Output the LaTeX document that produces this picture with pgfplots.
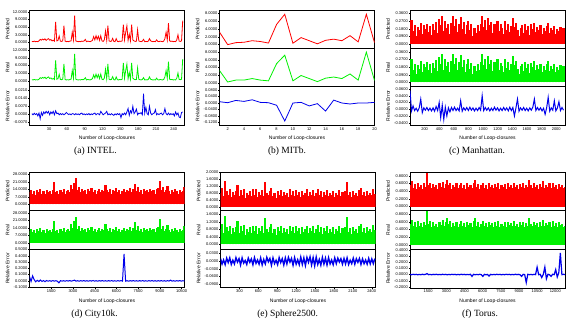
\documentclass[border=0pt]{standalone}
\usepackage{pgfplots}
\usepackage{pgfplotstable}
\pgfplotsset{compat=1.18}
\usepackage{fontspec}
\setmainfont{Liberation Serif}
\newfontfamily\arial{Liberation Sans}
\newcommand\tickfont{\arial\fontsize{4}{4.5}\selectfont}
\newcommand\labfont{\arial\fontsize{5}{6}\selectfont}
\newcommand\capfont{\fontsize{9.5}{11}\selectfont}
\definecolor{pr}{RGB}{255,0,0}
\definecolor{re}{RGB}{0,240,0}
\definecolor{er}{RGB}{0,0,235}
\pgfplotsset{
 sub/.style={scale only axis, width=155pt, height=#1, anchor=north west,
  axis line style={line width=0.6pt},
  every tick/.style={black, line width=0.3pt}, major tick length=1.2pt, tick align=outside,
  xtick pos=bottom, ytick pos=left,
  tick label style={font=\tickfont},
  yticklabel style={inner sep=0.8pt,/pgf/number format/.cd, fixed, fixed zerofill, precision=4, assume math mode=true},
  xticklabel style={inner sep=1pt,/pgf/number format/.cd, 1000 sep={}, assume math mode=true},
  scaled ticks=false,
  ylabel style={font=\labfont, at={(axis description cs:-0.142,0.5)}, anchor=center},
  xtick=\empty,
 },
 bot/.style={xlabel={Number of Loop-closures}, xlabel style={font=\labfont, at={(axis description cs:0.5,0)}, anchor=center, yshift=-13pt}},
 comb/.style={ycomb, line width=2.1pt, mark=none},
}
% INTEL
\pgfplotstableread[row sep=\\]{
x p e\\
1 0.4 0.0005\\ 3 0.3 -0.0005\\ 5 0.5 0.0008\\ 7 0.3 -0.0003\\ 9 0.4 0.0005\\ 11 0.3 -0.0015\\ 13 0.6 0.0010\\ 15 1.2 -0.0040\\ 17 0.9 0.0015\\ 19 1.3 -0.0010\\
21 1.0 0.0020\\ 23 1.4 0.0005\\ 25 0.8 0.0025\\ 27 1.2 0.0010\\ 29 1.5 0.0025\\ 31 0.9 -0.0005\\ 33 1.1 0.0020\\ 35 0.6 0.0005\\ 37 0.9 0.0025\\ 39 0.5 -0.0005\\
41 8.0 0.0030\\ 43 0.6 0.0005\\ 45 0.8 0.0010\\ 47 2.5 -0.0005\\ 49 0.5 0.0005\\ 51 0.4 -0.0003\\ 53 0.6 0.0005\\ 55 6.6 -0.0005\\ 57 0.5 0.0003\\ 59 0.3 0.0015\\
61 0.4 0.0005\\ 63 0.3 -0.0003\\ 65 0.5 0.0003\\ 67 0.6 -0.0005\\ 69 4.0 0.0005\\ 71 1.0 0.0003\\ 73 10.5 -0.0005\\ 75 0.6 0.0005\\ 77 0.4 -0.0003\\ 79 0.3 0.0003\\
81 0.4 -0.0005\\ 83 0.3 0.0005\\ 85 0.5 0.0010\\ 87 0.4 -0.0003\\ 89 0.6 0.0003\\ 91 1.2 -0.0005\\ 93 0.3 0.0003\\ 95 0.5 -0.0003\\ 97 0.4 0.0005\\ 99 0.3 -0.0005\\
101 0.5 0.0003\\ 103 0.8 -0.0003\\ 105 2.3 0.0005\\ 107 1.0 0.0010\\ 109 2.6 -0.0005\\ 111 1.2 0.0005\\ 113 2.4 0.0003\\ 115 0.8 -0.0005\\ 117 2.6 0.0025\\ 119 0.6 0.0010\\
121 0.4 -0.0005\\ 123 1.0 0.0003\\ 125 4.5 0.0010\\ 127 0.8 0.0025\\ 129 6.6 -0.0005\\ 131 0.6 0.0003\\ 133 0.4 -0.0005\\ 135 0.5 0.0005\\ 137 1.6 -0.0003\\ 139 0.4 -0.0010\\
141 0.3 0.0003\\ 143 1.5 -0.0005\\ 145 0.4 0.0005\\ 147 0.3 -0.0003\\ 149 0.5 0.0005\\ 151 0.4 -0.0030\\ 153 0.6 0.0005\\ 155 7.0 -0.0005\\ 157 1.0 0.0010\\ 159 4.0 -0.0005\\
161 6.5 0.0020\\ 163 0.8 0.0050\\ 165 3.2 -0.0010\\ 167 0.6 0.0030\\ 169 7.0 0.0010\\ 171 1.0 0.0070\\ 173 0.6 0.0005\\ 175 0.4 0.0020\\ 177 0.5 0.0045\\ 179 5.0 -0.0005\\
181 0.6 0.0010\\ 183 0.4 0.0005\\ 185 0.3 0.0015\\ 187 0.5 -0.0005\\ 189 1.2 0.0180\\ 191 0.3 0.0010\\ 193 0.4 0.0060\\ 195 0.3 0.0005\\ 197 0.5 -0.0005\\ 199 1.5 0.0070\\
201 0.6 0.0010\\ 203 0.4 -0.0005\\ 205 0.3 0.0005\\ 207 0.4 0.0010\\ 209 0.3 0.0040\\ 211 1.0 -0.0005\\ 213 0.4 0.0005\\ 215 0.3 -0.0003\\ 217 0.5 0.0005\\ 219 0.4 0.0010\\
221 0.3 -0.0005\\ 223 0.5 0.0005\\ 225 1.5 0.0050\\ 227 4.0 0.0005\\ 229 1.0 -0.0005\\ 231 7.5 0.0010\\ 233 0.6 -0.0005\\ 235 0.4 0.0005\\ 237 0.5 -0.0003\\ 239 0.3 0.0005\\
241 0.4 -0.0015\\ 243 0.3 0.0020\\ 245 1.0 -0.0005\\ 247 3.0 0.0010\\ 249 0.5 -0.0025\\ 251 0.4 -0.0030\\ 253 0.6 0.0015\\ 255 8.5 0.0020\\
}\tabA
% MITb
\pgfplotstableread[row sep=\\]{
x p r e\\
1 3.2 3.2 0.008\\ 2 0.0 0.2 0.002\\ 3 0.5 0.7 0.016\\ 4 0.6 0.7 0.010\\ 5 1.0 1.1 0.020\\
6 0.8 0.7 0.004\\ 7 0.4 0.5 0.002\\ 8 5.2 5.0 -0.014\\ 9 7.8 7.2 -0.112\\ 10 0.35 0.5 0.000\\
11 1.8 1.9 0.004\\ 12 1.0 1.1 -0.018\\ 13 0.2 0.3 -0.004\\ 14 1.1 1.2 -0.050\\ 15 1.4 1.5 0.018\\
16 1.0 1.1 0.000\\ 17 2.3 2.3 -0.006\\ 18 0.7 0.7 0.000\\ 19 7.8 8.0 0.000\\ 20 0.5 0.6 0.004\\
}\tabB
% Manhattan
\pgfplotstableread[row sep=\\]{
x p e\\
0 0.12 0.055\\ 21 0.28 -0.005\\ 42 0.15 0.010\\ 63 0.22 -0.004\\ 84 0.10 0.003\\ 105 0.20 -0.006\\ 126 0.16 0.004\\ 147 0.25 0.030\\ 168 0.12 -0.010\\ 189 0.22 0.004\\
210 0.18 -0.003\\ 231 0.24 0.005\\ 252 0.14 -0.004\\ 273 0.21 0.003\\ 294 0.11 -0.005\\ 315 0.23 0.004\\ 336 0.17 -0.006\\ 357 0.26 0.008\\ 378 0.13 -0.004\\ 399 0.30 0.020\\
420 0.22 -0.025\\ 441 0.33 0.012\\ 462 0.15 -0.030\\ 483 0.27 0.006\\ 504 0.19 -0.020\\ 525 0.24 0.004\\ 546 0.12 -0.008\\ 567 0.25 0.005\\ 588 0.33 -0.004\\ 609 0.21 0.006\\
630 0.29 -0.004\\ 651 0.14 0.003\\ 672 0.24 -0.005\\ 693 0.32 0.025\\ 714 0.18 -0.006\\ 735 0.26 0.004\\ 756 0.12 -0.003\\ 777 0.22 0.005\\ 798 0.27 -0.004\\ 819 0.16 0.006\\
840 0.23 -0.003\\ 861 0.10 0.004\\ 882 0.19 -0.005\\ 903 0.13 0.003\\ 924 0.22 -0.004\\ 945 0.15 0.005\\ 966 0.24 -0.003\\ 987 0.33 0.040\\ 1008 0.20 -0.004\\ 1029 0.28 0.005\\
1050 0.16 -0.003\\ 1071 0.31 0.004\\ 1092 0.22 -0.005\\ 1113 0.26 0.003\\ 1134 0.13 -0.004\\ 1155 0.24 0.006\\ 1176 0.18 -0.003\\ 1197 0.27 0.004\\ 1218 0.15 -0.005\\ 1239 0.23 0.003\\
1260 0.19 -0.004\\ 1281 0.12 0.005\\ 1302 0.27 -0.003\\ 1323 0.17 0.004\\ 1344 0.24 -0.005\\ 1365 0.14 0.006\\ 1386 0.21 -0.004\\ 1407 0.31 0.005\\ 1428 0.20 -0.020\\ 1449 0.25 0.004\\
1470 0.16 0.030\\ 1491 0.10 -0.006\\ 1512 0.19 0.004\\ 1533 0.22 -0.003\\ 1554 0.13 0.005\\ 1575 0.24 -0.004\\ 1596 0.17 0.003\\ 1617 0.21 -0.005\\ 1638 0.11 0.004\\ 1659 0.23 -0.003\\
1680 0.18 0.006\\ 1701 0.25 0.030\\ 1722 0.14 -0.004\\ 1743 0.20 0.005\\ 1764 0.16 -0.003\\ 1785 0.22 0.004\\ 1806 0.12 -0.005\\ 1827 0.19 0.003\\ 1848 0.15 -0.015\\ 1869 0.21 0.004\\
1890 0.25 0.035\\ 1911 0.13 -0.006\\ 1932 0.19 0.004\\ 1953 0.16 -0.003\\ 1974 0.21 0.025\\ 1995 0.12 -0.005\\ 2016 0.18 0.004\\ 2037 0.15 0.022\\ 2058 0.20 -0.004\\ 2079 0.13 0.005\\
2100 0.19 -0.003\\
}\tabC
% City10k
\pgfplotstableread[row sep=\\]{
x p e\\
0 11 0.07\\ 107 13 -0.01\\ 214 10 0.08\\ 321 12 0.02\\ 428 9 -0.015\\ 535 13 0.01\\ 642 11 -0.01\\ 749 14 0.015\\ 856 10 -0.008\\ 963 12 0.005\\
1070 9.5 -0.012\\ 1177 13 0.006\\ 1284 11 -0.005\\ 1391 12 0.004\\ 1498 10 -0.006\\ 1605 13 0.005\\ 1712 20.5 -0.004\\ 1819 11 0.003\\ 1926 12 -0.005\\ 2033 9.5 -0.03\\
2140 13 0.004\\ 2247 11 -0.004\\ 2354 14 0.003\\ 2461 10 -0.005\\ 2568 12 0.004\\ 2675 13 -0.003\\ 2782 11 0.005\\ 2889 18 -0.004\\ 2996 14 0.003\\ 3103 20 0.012\\
3210 24.5 -0.004\\ 3317 13 0.003\\ 3424 16 -0.005\\ 3531 11 0.004\\ 3638 14 -0.003\\ 3745 12 0.005\\ 3852 13 -0.004\\ 3959 10 0.003\\ 4066 14 -0.005\\ 4173 12 0.004\\
4280 15 -0.003\\ 4387 11 0.006\\ 4494 13 -0.004\\ 4601 10 0.003\\ 4708 12 -0.005\\ 4815 14 0.004\\ 4922 11 -0.003\\ 5029 13 0.005\\ 5136 12 -0.004\\ 5243 18 0.003\\
5350 13 -0.005\\ 5457 11 0.004\\ 5564 14 -0.003\\ 5671 10 0.005\\ 5778 13 -0.004\\ 5885 12 0.003\\ 5992 15 -0.005\\ 6099 11 0.004\\ 6206 13 -0.003\\ 6313 10 0.005\\
6420 12 -0.004\\ 6527 14 0.43\\ 6634 11 -0.004\\ 6741 13 0.003\\ 6848 12 -0.005\\ 6955 15 0.004\\ 7062 11 -0.003\\ 7169 14 0.005\\ 7276 19 -0.004\\ 7383 12 0.003\\
7490 16 -0.005\\ 7597 11 0.004\\ 7704 13 -0.003\\ 7811 10 0.005\\ 7918 14 -0.004\\ 8025 12 0.003\\ 8132 13 -0.005\\ 8239 11 0.004\\ 8346 14 -0.003\\ 8453 12 0.005\\
8560 13 -0.004\\ 8667 10 0.003\\ 8774 14 -0.005\\ 8881 15 0.004\\ 8988 22 -0.003\\ 9095 13 0.005\\ 9202 16 -0.004\\ 9309 11 0.003\\ 9416 13 -0.005\\ 9523 17 0.004\\
9630 12 -0.003\\ 9737 10 0.012\\ 9844 13 -0.004\\ 9951 11 0.003\\ 10058 14 -0.005\\ 10165 12 0.004\\ 10272 10 -0.003\\ 10379 13 0.005\\ 10486 11 -0.004\\ 10593 12 0.003\\
10700 16 -0.002\\
}\tabD
% Sphere2500
\pgfplotstableread[row sep=\\]{
x p e\\
0 0.8 0.010\\ 24.5 1.1 -0.012\\ 49 0.6 0.004\\ 73.5 1.5 -0.014\\ 98 0.9 0.011\\ 122.5 0.7 -0.006\\ 147 1.0 0.012\\ 171.5 0.55 -0.013\\ 196 0.85 0.003\\ 220.5 0.65 -0.011\\
245 0.9 0.013\\ 269.5 1.25 -0.004\\ 294 0.6 0.009\\ 318.5 0.95 -0.015\\ 343 0.7 0.012\\ 367.5 1.05 -0.008\\ 392 0.5 0.002\\ 416.5 0.8 -0.013\\ 441 0.65 0.011\\ 465.5 0.9 -0.005\\
490 0.6 0.008\\ 514.5 1.0 -0.014\\ 539 0.7 0.013\\ 563.5 1.0 -0.009\\ 588 0.55 0.004\\ 612.5 0.85 -0.012\\ 637 0.7 0.012\\ 661.5 0.95 -0.015\\ 686 0.6 0.006\\ 710.5 1.4 -0.011\\
735 0.8 0.014\\ 759.5 0.65 -0.003\\ 784 0.9 0.010\\ 808.5 1.1 -0.016\\ 833 0.6 0.012\\ 857.5 0.8 -0.010\\ 882 0.5 0.003\\ 906.5 0.9 -0.014\\ 931 0.7 0.013\\ 955.5 0.95 -0.006\\
980 0.6 0.009\\ 1004.5 0.85 -0.015\\ 1029 0.65 0.012\\ 1053.5 0.8 -0.011\\ 1078 0.55 0.014\\ 1102.5 1.0 -0.004\\ 1127 0.7 0.010\\ 1151.5 0.9 -0.016\\ 1176 0.6 0.013\\ 1200.5 0.95 -0.012\\
1225 0.7 0.005\\ 1249.5 0.85 -0.014\\ 1274 0.55 0.015\\ 1298.5 0.9 -0.013\\ 1323 0.65 0.012\\ 1347.5 0.8 -0.017\\ 1372 1.0 0.014\\ 1396.5 0.6 -0.005\\ 1421 0.85 0.016\\ 1445.5 0.7 -0.015\\
1470 0.95 0.013\\ 1494.5 0.6 -0.018\\ 1519 0.8 0.015\\ 1543.5 1.05 -0.013\\ 1568 0.65 0.006\\ 1592.5 0.9 -0.016\\ 1617 0.55 0.014\\ 1641.5 0.85 -0.012\\ 1666 0.7 0.011\\ 1690.5 0.95 -0.015\\
1715 0.6 0.013\\ 1739.5 0.8 -0.011\\ 1764 0.65 0.004\\ 1788.5 0.9 -0.014\\ 1813 0.55 0.012\\ 1837.5 0.8 -0.010\\ 1862 0.7 0.011\\ 1886.5 0.95 -0.004\\ 1911 0.6 0.009\\ 1935.5 0.85 -0.012\\
1960 0.7 0.010\\ 1984.5 0.9 -0.011\\ 2009 1.45 0.012\\ 2033.5 0.65 -0.013\\ 2058 0.85 0.003\\ 2082.5 0.55 -0.010\\ 2107 0.9 0.011\\ 2131.5 0.7 -0.012\\ 2156 0.8 0.009\\ 2180.5 0.6 -0.005\\
2205 0.95 0.010\\ 2229.5 1.1 -0.013\\ 2254 0.65 0.008\\ 2278.5 0.85 -0.010\\ 2303 0.6 0.004\\ 2327.5 0.9 -0.012\\ 2352 0.7 0.010\\ 2376.5 0.8 -0.011\\ 2401 0.65 0.008\\ 2425.5 1.05 -0.010\\
2450 0.75 0.009\\
}\tabE
% Torus
\pgfplotstableread[row sep=\\]{
x p e\\
0 0.55 0.003\\ 128 0.65 -0.003\\ 256 0.48 0.004\\ 384 0.58 -0.002\\ 512 0.45 0.003\\ 640 0.62 -0.004\\ 768 0.50 0.002\\ 896 0.57 -0.003\\ 1024 0.46 0.004\\ 1152 0.60 -0.002\\
1280 0.52 0.003\\ 1408 0.88 0.015\\ 1536 0.55 -0.003\\ 1664 0.62 0.002\\ 1792 0.47 -0.004\\ 1920 0.58 0.003\\ 2048 0.50 -0.002\\ 2176 0.55 0.004\\ 2304 0.45 -0.003\\ 2432 0.60 0.002\\
2560 0.52 -0.003\\ 2688 0.63 0.004\\ 2816 0.48 -0.002\\ 2944 0.58 0.003\\ 3072 0.70 -0.004\\ 3200 0.55 0.002\\ 3328 0.62 -0.003\\ 3456 0.46 0.004\\ 3584 0.57 -0.002\\ 3712 0.50 0.003\\
3840 0.60 -0.004\\ 3968 0.47 0.002\\ 4096 0.55 -0.003\\ 4224 0.62 0.004\\ 4352 0.48 -0.002\\ 4480 0.57 0.003\\ 4608 0.45 -0.004\\ 4736 0.60 0.002\\ 4864 0.52 -0.003\\ 4992 0.56 0.004\\
5120 0.47 -0.030\\ 5248 0.62 0.003\\ 5376 0.70 -0.004\\ 5504 0.50 0.002\\ 5632 0.58 -0.003\\ 5760 0.46 0.004\\ 5888 0.55 -0.002\\ 6016 0.62 -0.030\\ 6144 0.48 0.003\\ 6272 0.57 -0.004\\
6400 0.45 0.002\\ 6528 0.60 -0.025\\ 6656 0.52 0.003\\ 6784 0.56 -0.004\\ 6912 0.47 0.002\\ 7040 0.58 -0.003\\ 7168 0.50 0.004\\ 7296 0.62 -0.002\\ 7424 0.46 0.003\\ 7552 0.55 -0.004\\
7680 0.50 0.002\\ 7808 0.58 -0.003\\ 7936 0.45 0.004\\ 8064 0.60 -0.002\\ 8192 0.52 0.003\\ 8320 0.56 -0.004\\ 8448 0.48 0.002\\ 8576 0.62 -0.003\\ 8704 0.50 0.004\\ 8832 0.55 -0.002\\
8960 0.46 0.003\\ 9088 0.58 -0.004\\ 9216 0.52 -0.030\\ 9344 0.60 0.003\\ 9472 0.47 -0.002\\ 9600 0.57 -0.130\\ 9728 0.50 0.004\\ 9856 0.70 -0.003\\ 9984 0.55 0.002\\ 10112 0.48 -0.004\\
10240 0.60 0.003\\ 10368 0.52 -0.002\\ 10496 0.57 0.120\\ 10624 0.46 -0.003\\ 10752 0.58 0.004\\ 10880 0.50 -0.050\\ 11008 0.65 0.003\\ 11136 0.48 0.120\\ 11264 0.56 -0.070\\ 11392 0.52 0.004\\
11520 0.60 -0.003\\ 11648 0.47 -0.030\\ 11776 0.62 0.004\\ 11904 0.50 -0.002\\ 12032 0.56 0.080\\ 12160 0.46 -0.040\\ 12288 0.58 0.030\\ 12416 0.52 0.350\\ 12544 0.55 -0.003\\ 12672 0.47 0.004\\
12800 0.50 -0.002\\
}\tabF
\begin{document}
\begin{tikzpicture}
\useasboundingbox (0,0) rectangle (573pt,-323pt);
% ---------- (a) INTEL
\begin{axis}[sub=38.3pt, at={(29.5pt,-10pt)}, xmin=-3, xmax=258, ymin=-2.3, ymax=12.7, ytick={0,3,6,9,12}, ylabel={Predicted}]
\addplot[pr, line width=0.8pt, mark=none] table[x=x,y=p]{\tabA};
\end{axis}
\begin{axis}[sub=38.3pt, at={(29.5pt,-48.3pt)}, xmin=-3, xmax=258, ymin=-2.3, ymax=12.7, ytick={0,3,6,9,12}, ylabel={Real}]
\addplot[re, line width=0.8pt, mark=none] table[x=x,y=p]{\tabA};
\end{axis}
\begin{axis}[sub=38.3pt, bot, at={(29.5pt,-86.6pt)}, xmin=-3, xmax=258, ymin=-0.0094, ymax=0.0243, ytick={-0.007,0,0.007,0.014,0.021}, xtick={30,60,...,240}, ylabel={Relative Error}]
\addplot[er, line width=0.8pt, mark=none] table[x=x,y=e]{\tabA};
\end{axis}
% ---------- (b) MITb
\begin{axis}[sub=38.3pt, at={(219.5pt,-10pt)}, xmin=1, xmax=20, ymin=-0.95, ymax=8.9, ytick={0,2,4,6,8}, ylabel={Predicted}]
\addplot[pr, line width=0.8pt, mark=none] table[x=x,y=p]{\tabB};
\end{axis}
\begin{axis}[sub=38.3pt, at={(219.5pt,-48.3pt)}, xmin=1, xmax=20, ymin=-1, ymax=9, ytick={0,2,4,6,8}, ylabel={Real}]
\addplot[re, line width=0.8pt, mark=none] table[x=x,y=r]{\tabB};
\end{axis}
\begin{axis}[sub=38.3pt, bot, at={(219.5pt,-86.6pt)}, xmin=1, xmax=20, ymin=-0.136, ymax=0.102, ytick={-0.12,-0.08,-0.04,0,0.04,0.08}, xtick={2,4,...,20}, ylabel={Relative Error}]
\addplot[er, line width=0.8pt, mark=none] table[x=x,y=e]{\tabB};
\end{axis}
% ---------- (c) Manhattan
\begin{axis}[sub=38.3pt, at={(410pt,-10pt)}, xmin=0, xmax=2120, ymin=-0.05, ymax=0.40, ytick={0,0.09,0.18,0.27,0.36}, ylabel={Predicted}]
\addplot[pr, comb] table[x=x,y=p]{\tabC};
\end{axis}
\begin{axis}[sub=38.3pt, at={(410pt,-48.3pt)}, xmin=0, xmax=2120, ymin=-0.05, ymax=0.40, ytick={0,0.09,0.18,0.27,0.36}, ylabel={Real}]
\addplot[re, comb] table[x=x,y=p]{\tabC};
\end{axis}
\begin{axis}[sub=38.3pt, bot, at={(410pt,-86.6pt)}, xmin=0, xmax=2120, ymin=-0.0465, ymax=0.067, ytick={-0.04,-0.02,0,0.02,0.04,0.06}, xtick={200,400,...,2000}, ylabel={Relative Error}]
\addplot[er, line width=1.0pt, mark=none] table[x=x,y=e]{\tabC};
\end{axis}
% ---------- (d) City10k
\begin{axis}[sub=38.6pt, at={(29.5pt,-172pt)}, xmin=0, xmax=10700, ymin=-5.8, ymax=30, ytick={0,7,14,21,28}, ylabel={Predicted}]
\addplot[pr, comb] table[x=x,y=p]{\tabD};
\end{axis}
\begin{axis}[sub=38.6pt, at={(29.5pt,-210.6pt)}, xmin=0, xmax=10700, ymin=-5.8, ymax=30, ytick={0,7,14,21,28}, ylabel={Real}]
\addplot[re, comb] table[x=x,y=p]{\tabD};
\end{axis}
\begin{axis}[sub=38.6pt, bot, at={(29.5pt,-249.2pt)}, xmin=0, xmax=10700, ymin=-0.11, ymax=0.505, ytick={-0.1,0,0.1,0.2,0.3,0.4,0.5}, xtick={1500,3000,...,10500}, ylabel={Relative Error}]
\addplot[er, line width=1.0pt, mark=none] table[x=x,y=e]{\tabD};
\end{axis}
% ---------- (e) Sphere2500
\begin{axis}[sub=38.6pt, at={(220.5pt,-172pt)}, xmin=0, xmax=2460, ymin=-0.22, ymax=2.0, ytick={0,0.4,0.8,1.2,1.6,2.0}, ylabel={Predicted}]
\addplot[pr, comb] table[x=x,y=p]{\tabE};
\end{axis}
\begin{axis}[sub=38.6pt, at={(220.5pt,-210.6pt)}, xmin=0, xmax=2460, ymin=-0.25, ymax=1.79, ytick={0,0.4,0.8,1.2,1.6}, ylabel={Real}]
\addplot[re, comb] table[x=x,y=p]{\tabE};
\end{axis}
\begin{axis}[sub=38.6pt, bot, at={(220.5pt,-249.2pt)}, xmin=0, xmax=2460, ymin=-0.1035, ymax=0.0457, ytick={-0.09,-0.06,-0.03,0,0.03}, xtick={300,600,...,2400}, ylabel={Relative Error}]
\addplot[er, line width=1.4pt, mark=none] table[x=x,y=e]{\tabE};
\end{axis}
% ---------- (f) Torus
\begin{axis}[sub=38.6pt, at={(410pt,-172pt)}, xmin=0, xmax=12800, ymin=-0.103, ymax=0.895, ytick={0,0.2,0.4,0.6,0.8}, ylabel={Predicted}]
\addplot[pr, comb] table[x=x,y=p]{\tabF};
\end{axis}
\begin{axis}[sub=38.6pt, at={(410pt,-210.6pt)}, xmin=0, xmax=12800, ymin=-0.11, ymax=0.885, ytick={0,0.2,0.4,0.6,0.8}, ylabel={Real}]
\addplot[re, comb] table[x=x,y=p]{\tabF};
\end{axis}
\begin{axis}[sub=38.6pt, bot, at={(410pt,-249.2pt)}, xmin=0, xmax=12800, ymin=-0.215, ymax=0.41, ytick={-0.2,-0.1,0,0.1,0.2,0.3,0.4}, xtick={1500,3000,...,12000}, ylabel={Relative Error}]
\addplot[er, line width=1.2pt, mark=none] table[x=x,y=e]{\tabF};
\end{axis}
% ---------- captions
\node[font=\capfont] at (95.5pt,-151.5pt) {(a) INTEL.};
\node[font=\capfont] at (287pt,-151.5pt) {(b) MITb.};
\node[font=\capfont] at (477pt,-151.5pt) {(c) Manhattan.};
\node[font=\capfont] at (94.6pt,-314.4pt) {(d) City10k.};
\node[font=\capfont] at (287.6pt,-314.4pt) {(e) Sphere2500.};
\node[font=\capfont] at (480pt,-314.4pt) {(f) Torus.};
\end{tikzpicture}
\end{document}
